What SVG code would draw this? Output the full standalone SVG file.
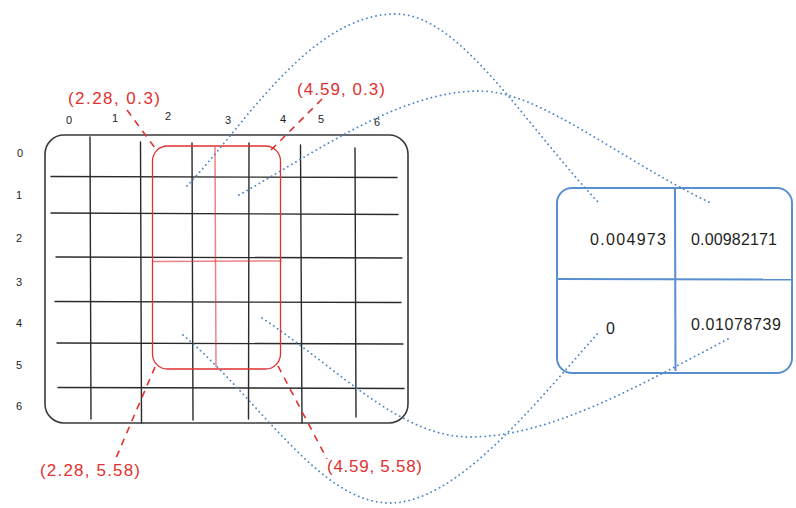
<svg xmlns="http://www.w3.org/2000/svg" width="796" height="508" viewBox="0 0 796 508">
<style>
.grid{stroke:#2a2a2a;stroke-width:1.4;fill:none;stroke-linecap:round}
.frame{stroke:#3a3a3a;stroke-width:1.6;fill:none}
.red{stroke:#e03131;fill:none}
.redthin{stroke:#e03131;stroke-width:1.5;fill:none;opacity:0.6}
.dash{stroke:#e03131;stroke-width:1.6;stroke-dasharray:7 6;fill:none}
.dot{stroke:#4a84c6;stroke-width:1.8;stroke-dasharray:0.1 4.6;stroke-linecap:round;fill:none}
.blue{stroke:#5a8fcf;stroke-width:2;fill:none}
.ax{font-family:"Liberation Sans",Arial,sans-serif;font-size:11px;fill:#1e1e1e;text-anchor:middle}
.rl{font-family:"Liberation Sans",Arial,sans-serif;font-size:17px;fill:#e03131}
.val{font-family:"Liberation Sans",Arial,sans-serif;font-size:16px;fill:#1e1e1e}
</style>

<g id="grid">
  <rect class="frame" x="45" y="135" width="363" height="288" rx="19"/>
  <line class="grid" x1="90" y1="137" x2="91" y2="419"/>
  <line class="grid" x1="140.5" y1="142" x2="141.5" y2="423"/>
  <line class="grid" x1="192" y1="143" x2="193" y2="420"/>
  <line class="grid" x1="249" y1="143" x2="248.5" y2="419"/>
  <line class="grid" x1="300.5" y1="145" x2="302" y2="423"/>
  <line class="grid" x1="355" y1="148" x2="356" y2="417"/>
  <line class="grid" x1="51" y1="176.5" x2="397" y2="177.5"/>
  <line class="grid" x1="51" y1="213" x2="398" y2="214.5"/>
  <line class="grid" x1="56" y1="257" x2="402" y2="258"/>
  <line class="grid" x1="55" y1="301.5" x2="401" y2="302.5"/>
  <line class="grid" x1="57" y1="343" x2="403" y2="344"/>
  <line class="grid" x1="58" y1="387.5" x2="404" y2="388.5"/>
</g>

<g id="axis-labels">
  <text class="ax" x="69" y="124">0</text>
  <text class="ax" x="115" y="122">1</text>
  <text class="ax" x="168" y="120">2</text>
  <text class="ax" x="228" y="124">3</text>
  <text class="ax" x="283" y="123">4</text>
  <text class="ax" x="321" y="123">5</text>
  <text class="ax" x="377" y="126">6</text>
  <text class="ax" x="20" y="157">0</text>
  <text class="ax" x="19" y="199">1</text>
  <text class="ax" x="19" y="242">2</text>
  <text class="ax" x="19" y="286">3</text>
  <text class="ax" x="19" y="327">4</text>
  <text class="ax" x="19" y="369">5</text>
  <text class="ax" x="19" y="410">6</text>
</g>

<g id="selection">
  <rect class="red" stroke-width="1.3" x="152.5" y="146" width="128" height="223" rx="15"/>
  <line class="redthin" x1="215" y1="147" x2="216" y2="367"/>
  <line class="redthin" x1="153" y1="261.5" x2="281.5" y2="261"/>
</g>

<g id="label-tl"><text class="rl" x="68" y="104" textLength="92">(2.28, 0.3)</text></g>
<g id="label-tr"><text class="rl" x="297" y="95" textLength="88">(4.59, 0.3)</text></g>
<g id="label-bl"><text class="rl" x="40" y="476" textLength="100">(2.28, 5.58)</text></g>
<g id="label-br"><text class="rl" x="327" y="472" textLength="95">(4.59, 5.58)</text></g>

<g id="result">
  <rect class="blue" x="557" y="188" width="235" height="185" rx="15"/>
  <line class="blue" x1="675" y1="189" x2="675.5" y2="371"/>
  <line class="blue" x1="557" y1="279" x2="792" y2="279.5"/>
  <text class="val" x="590" y="245" textLength="76">0.004973</text>
  <text class="val" x="691" y="245" textLength="86">0.00982171</text>
  <text class="val" x="606" y="334">0</text>
  <text class="val" x="691" y="330" textLength="90">0.01078739</text>
</g>

<g id="connectors">
  <path class="dash" d="M127,110 L155,148"/>
  <path class="dash" d="M322,99 L270,151"/>
  <path class="dash" d="M155,367 L116,458"/>
  <path class="dash" d="M278,366 L327,459"/>
  <path class="dot" d="M187,186 C245,125 310,14 396,14 C460,14 525,125 599,203"/>
  <path class="dot" d="M239,195 C320,150 400,91 480,91 C540,91 620,160 713,204"/>
  <path class="dot" d="M183,335 C260,400 320,503 390,503 C455,503 530,410 598,333"/>
  <path class="dot" d="M262,318 C340,370 400,437 470,437 C550,437 640,385 728,339"/>
</g>
</svg>
